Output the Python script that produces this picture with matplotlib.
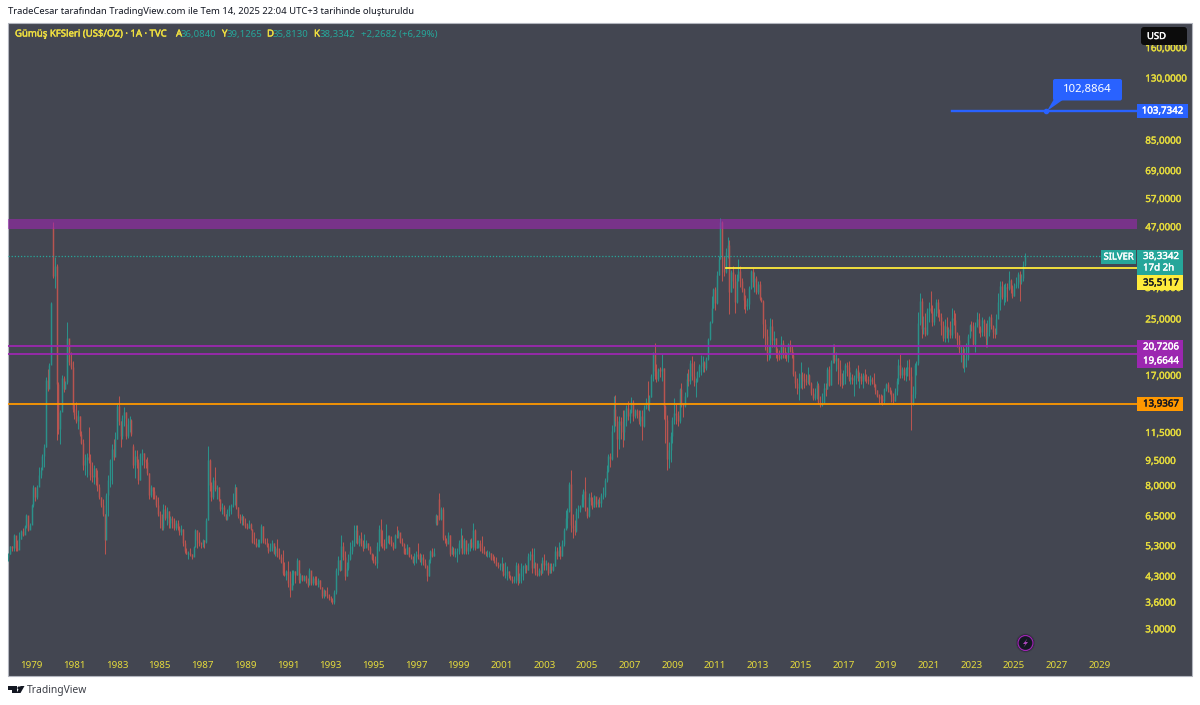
import matplotlib
matplotlib.use("Agg")
import matplotlib.pyplot as plt
import matplotlib.patheffects as pe
from matplotlib.patches import Rectangle, FancyBboxPatch, Polygon, Circle

plt.rcParams["font.family"] = ["Noto Sans", "DejaVu Sans"]

# monthly bars, Dec 1977 to Jul 2025
highs = [5.05,
    5.3,5.3,5.75,5.55,5.5,5.8,5.9,6.0,6.1,6.6,6.3,6.2,
    7.05,8.0,7.9,8.0,9.1,9.1,9.9,10.6,16.8,17.8,18.5,28.0,
    48.5,38.3,36.5,16.2,13.4,17.0,16.9,16.4,24.5,21.7,20.0,18.8,
    14.0,14.2,13.4,12.9,11.6,11.0,9.9,10.0,11.9,9.9,9.4,9.2,
    9.0,8.9,8.1,7.4,7.3,6.6,7.6,8.6,9.6,10.6,11.0,11.5,
    14.0,14.8,12.4,13.0,13.7,13.2,12.7,12.9,12.6,10.6,10.2,10.2,
    9.6,10.0,10.3,10.0,9.6,9.7,8.7,8.0,7.9,7.9,7.5,7.4,
    6.7,6.6,7.05,7.0,6.9,6.7,6.5,6.5,6.4,6.3,6.3,6.05,
    6.1,5.95,5.5,5.2,5.1,5.2,5.0,5.3,5.95,5.9,5.8,5.45,
    5.55,5.5,6.4,10.5,9.6,8.2,8.5,9.1,8.0,7.9,7.3,7.1,
    7.0,6.6,6.8,7.0,7.05,7.6,8.1,7.9,6.9,6.6,6.6,6.5,
    6.4,6.2,6.3,6.2,5.95,5.8,5.6,5.55,5.55,6.15,6.05,5.6,
    5.6,5.4,5.4,5.5,5.4,5.3,5.55,5.2,5.0,5.15,4.75,4.5,
    4.78,4.47,4.5,4.5,4.45,4.87,4.8,4.4,4.35,4.35,4.35,4.25,
    4.55,4.4,4.3,4.3,4.3,4.25,4.2,4.0,3.95,3.85,4.0,3.8,
    3.75,3.7,3.9,4.55,4.95,4.8,5.7,5.45,5.1,4.75,5.0,5.45,
    5.5,6.1,6.1,6.1,5.7,5.8,5.5,5.75,5.5,5.4,5.3,5.0,
    5.0,4.95,5.45,6.1,6.35,5.9,5.55,6.15,5.7,5.7,5.65,5.45,
    5.75,6.05,5.9,5.75,5.6,5.4,5.2,5.35,5.25,5.0,4.95,5.05,
    5.1,5.4,5.05,5.0,5.0,4.85,4.65,4.85,5.15,5.2,5.2,6.6,
    6.3,7.6,6.9,6.9,5.7,5.6,5.8,5.7,5.3,5.25,5.2,5.2,
    5.5,6.0,5.7,5.6,5.5,5.4,5.55,5.6,6.2,5.95,5.5,5.5,
    5.5,5.65,5.3,5.1,5.15,5.1,5.05,5.0,4.95,4.9,4.75,4.7,
    4.9,4.6,4.75,4.6,4.45,4.35,4.3,4.3,4.75,4.7,4.4,4.7,
    4.65,4.7,4.65,5.05,5.1,5.2,5.2,4.75,4.7,4.55,4.7,4.9,
    5.0,4.8,4.75,4.7,4.7,4.7,5.3,5.25,5.45,5.3,5.5,6.0,
    6.75,6.85,8.2,8.9,6.6,6.3,6.85,7.0,7.0,7.55,7.8,8.5,
    6.9,7.6,7.65,7.4,7.5,7.4,7.3,7.4,7.6,7.9,8.4,9.2,
    9.9,10.0,12.1,14.8,14.9,12.9,12.9,12.8,13.4,13.4,13.9,14.3,
    13.5,14.7,14.4,13.5,13.5,13.4,13.4,13.4,13.9,14.6,16.4,14.9,
    17.1,20.0,21.2,18.4,17.9,18.0,19.7,17.9,13.9,13.0,10.8,11.5,
    12.8,14.6,14.0,13.3,15.6,16.1,14.1,15.2,17.3,17.7,18.9,19.4,
    18.7,16.7,17.5,18.4,19.6,19.4,18.7,19.3,22.0,24.6,29.2,31.0,
    31.2,34.6,38.5,50.0,48.8,38.5,40.5,43.8,43.0,35.0,36.0,34.0,
    34.0,37.6,36.0,33.0,31.0,29.4,28.8,31.3,35.0,35.5,34.5,33.5,
    32.5,32.5,29.0,28.5,25.0,23.4,20.8,25.2,25.0,23.0,22.0,20.5,
    20.2,22.3,21.6,20.6,19.9,21.2,21.6,20.9,19.9,17.5,16.7,17.3,
    18.6,17.4,17.3,17.2,18.0,17.2,16.2,15.6,15.6,16.4,16.1,14.8,
    15.1,16.1,16.1,18.0,18.1,18.9,21.0,21.0,20.0,19.1,18.9,17.3,
    17.6,18.5,18.6,18.7,17.4,17.1,17.0,17.9,18.2,17.4,17.3,17.3,
    17.7,17.1,16.9,17.0,16.8,17.3,16.0,15.4,15.0,15.0,14.9,15.6,
    16.1,16.2,15.7,15.4,15.1,15.6,16.7,19.0,19.7,18.0,18.0,18.0,
    18.9,19.0,18.0,15.8,18.5,18.8,26.2,29.8,28.9,25.5,26.0,27.0,
    28.0,30.3,27.5,27.0,28.6,28.7,26.7,26.0,24.7,25.0,25.4,23.6,
    24.7,26.9,26.5,26.0,22.9,22.4,20.8,20.8,20.5,21.2,22.5,24.2,
    24.6,24.4,24.4,26.2,26.1,23.8,25.3,25.0,23.9,24.8,25.5,25.9,
    24.0,23.5,25.8,29.9,32.5,32.5,31.7,32.0,31.9,34.8,32.8,31.5,
    31.9,33.2,34.5,34.6,34.0,37.2,39.1265]
lows = [4.78,
    5.0,5.1,5.1,5.1,5.1,5.5,5.55,5.65,5.8,6.0,5.85,5.95,
    6.3,6.9,7.2,7.3,8.1,8.4,9.0,9.1,10.4,15.3,16.0,18.6,
    33.0,31.0,10.9,11.4,10.6,13.5,15.2,15.5,16.0,18.3,17.7,13.2,
    12.6,12.3,11.8,11.2,10.6,8.9,8.6,8.5,9.3,8.3,8.2,8.1,
    8.0,7.7,7.3,6.9,6.5,5.0,5.9,6.5,7.9,8.1,9.5,10.4,
    11.0,12.1,10.4,11.0,12.0,11.0,11.1,11.5,11.2,9.0,8.4,9.0,
    8.1,8.3,9.2,9.0,9.0,8.6,7.3,7.4,7.3,7.3,6.9,6.5,
    6.0,5.9,5.9,6.3,6.1,6.0,6.0,6.0,5.9,5.9,5.9,5.7,
    5.7,5.3,5.05,5.0,4.85,4.95,4.85,4.95,5.25,5.2,5.3,5.2,
    5.25,5.2,5.4,6.3,7.7,7.2,7.3,7.7,7.3,7.2,6.7,6.6,
    6.5,6.3,6.3,6.5,6.6,6.9,7.0,6.8,6.4,6.2,6.1,6.1,
    6.0,5.95,6.0,5.9,5.4,5.35,5.25,5.25,5.25,5.4,5.4,5.35,
    5.25,5.05,5.1,5.1,5.0,4.95,4.9,4.85,4.7,4.33,4.3,4.2,
    4.0,3.72,3.95,4.05,4.1,4.35,4.1,4.1,4.15,4.15,4.1,4.0,
    4.15,4.05,4.05,4.05,4.05,4.0,3.95,3.7,3.7,3.75,3.7,3.65,
    3.6,3.55,3.55,3.8,4.35,4.45,4.5,4.8,4.2,4.3,4.5,4.8,
    5.0,5.3,5.4,5.35,5.3,5.3,5.1,5.2,5.2,5.15,5.0,4.8,
    4.7,4.65,4.55,5.1,5.3,5.2,5.15,5.2,5.4,5.35,5.3,5.15,
    5.2,5.6,5.6,5.4,5.3,5.0,5.0,5.0,4.9,4.85,4.7,4.65,
    4.7,4.85,4.75,4.65,4.65,4.55,4.15,4.3,4.7,4.9,4.95,6.1,
    6.1,6.3,6.3,5.5,5.4,5.3,5.4,4.95,5.0,4.95,4.9,4.75,
    5.0,5.2,5.0,5.0,5.0,5.0,5.1,5.2,5.15,5.15,5.2,5.2,
    5.1,5.05,5.0,4.95,4.9,4.9,4.8,4.8,4.7,4.6,4.55,4.5,
    4.45,4.3,4.25,4.2,4.25,4.2,4.1,4.1,4.1,4.05,4.1,4.1,
    4.2,4.4,4.4,4.5,4.8,4.4,4.65,4.35,4.3,4.3,4.35,4.4,
    4.5,4.5,4.35,4.4,4.4,4.45,4.6,4.85,4.95,4.85,4.95,5.3,
    5.95,6.0,6.65,5.8,5.6,5.7,5.8,6.4,6.65,6.9,6.9,6.7,
    6.4,6.45,7.0,6.8,6.9,6.9,6.9,6.9,6.9,7.3,7.4,8.2,
    8.8,9.1,9.5,11.5,12.0,9.7,10.3,11.0,10.4,10.9,12.0,12.5,
    12.3,13.1,12.4,12.7,12.7,12.2,12.0,10.9,11.9,13.5,13.4,13.3,
    14.7,16.4,16.6,16.2,16.4,16.8,16.4,12.6,10.7,8.9,9.0,9.4,
    10.7,12.2,12.2,12.0,12.3,13.7,12.8,13.7,14.7,15.8,16.0,16.5,
    15.8,14.7,16.2,16.8,17.0,17.4,17.4,17.6,18.9,21.6,24.3,26.9,
    26.5,27.6,33.7,37.7,32.5,33.5,34.3,38.0,25.8,30.0,31.0,26.1,
    27.9,32.5,31.2,30.0,26.8,26.0,26.5,26.7,30.7,31.2,30.0,29.6,
    29.6,28.5,28.0,22.0,20.2,18.7,18.9,19.2,20.7,20.6,19.2,18.8,
    18.9,19.0,19.1,19.1,18.8,18.6,19.9,19.2,16.9,15.6,15.0,14.4,
    15.6,15.5,15.6,15.9,16.0,15.9,14.9,14.4,14.4,14.5,14.0,13.7,
    13.8,14.8,14.8,15.5,15.8,15.9,18.5,18.5,17.5,16.0,15.8,15.6,
    15.9,16.0,16.9,16.4,16.0,16.0,14.8,16.0,16.4,15.6,16.0,15.6,
    16.3,16.1,16.0,15.9,16.0,15.7,15.0,14.7,14.0,14.0,13.9,14.0,
    15.3,15.2,15.0,14.2,14.0,14.3,14.9,16.0,16.7,16.7,16.5,16.4,
    16.9,16.5,11.7,13.9,14.6,17.0,18.3,24.0,22.0,22.5,22.3,22.4,
    24.5,26.0,23.8,24.0,25.5,25.4,24.6,22.4,21.5,21.4,22.0,21.4,
    21.9,22.0,24.0,22.0,20.6,19.8,18.6,17.9,17.4,18.0,18.9,22.0,
    23.0,20.9,19.9,23.6,22.7,22.1,22.3,22.3,20.7,20.7,22.3,23.3,
    21.9,21.9,22.6,26.0,26.5,28.6,27.5,28.0,28.2,30.4,29.9,28.8,
    29.2,31.0,31.0,28.3,31.8,32.4,35.813]
closes = [5.0,
    5.3,5.2,5.7,5.2,5.15,5.55,5.85,5.7,6.05,6.55,5.9,6.1,
    7.0,7.9,7.4,7.9,8.6,8.9,9.8,10.4,16.5,15.5,18.2,27.8,
    33.5,36.0,16.0,11.8,13.2,16.7,15.5,16.2,22.0,18.6,18.0,13.5,
    13.0,12.4,12.9,11.4,10.7,9.2,9.5,9.7,9.5,8.6,8.5,9.0,
    8.5,7.9,7.4,7.0,6.6,5.5,7.5,8.3,9.5,10.3,9.7,11.0,
    13.8,12.4,11.2,12.7,13.2,11.2,12.2,12.5,11.4,9.2,9.8,9.4,
    8.3,9.9,10.0,9.5,9.4,8.7,7.5,7.9,7.7,7.4,7.0,6.6,
    6.5,6.0,6.8,6.4,6.7,6.2,6.4,6.3,6.0,6.2,6.0,5.8,
    5.95,5.4,5.1,5.0,5.05,5.0,4.9,5.25,5.9,5.5,5.4,5.35,
    5.5,5.45,6.3,9.5,8.0,7.4,8.3,7.8,7.9,7.3,6.8,6.9,
    6.6,6.35,6.7,6.9,7.0,7.05,7.9,6.9,6.5,6.3,6.5,6.2,
    6.05,6.0,6.15,5.95,5.45,5.4,5.3,5.4,5.5,6.05,5.45,5.4,
    5.3,5.1,5.2,5.4,5.05,5.2,4.95,4.9,4.75,4.4,4.35,4.45,
    4.1,3.9,4.4,4.45,4.35,4.8,4.2,4.35,4.2,4.3,4.15,4.05,
    4.5,4.1,4.25,4.1,4.08,4.2,4.0,3.75,3.9,3.8,3.75,3.7,
    3.65,3.6,3.85,4.5,4.8,4.5,5.3,4.9,4.3,4.55,4.85,5.1,
    5.3,5.5,5.9,5.4,5.6,5.35,5.2,5.25,5.4,5.2,5.05,4.85,
    4.75,4.7,5.3,5.95,5.4,5.25,5.2,5.6,5.65,5.5,5.35,5.2,
    5.7,5.65,5.8,5.45,5.35,5.05,5.02,5.25,4.95,4.9,4.75,4.95,
    5.0,4.9,4.8,4.9,4.7,4.6,4.3,4.8,5.1,4.95,5.05,6.55,
    6.15,6.35,6.8,5.6,5.5,5.35,5.7,5.0,5.2,5.0,5.1,5.1,
    5.4,5.55,5.05,5.5,5.1,5.25,5.45,5.25,5.9,5.2,5.25,5.4,
    5.2,5.1,5.05,5.0,5.02,5.03,4.85,4.82,4.75,4.65,4.6,4.65,
    4.7,4.35,4.4,4.45,4.3,4.22,4.15,4.2,4.65,4.15,4.3,4.55,
    4.6,4.65,4.5,4.95,5.0,4.55,4.7,4.4,4.35,4.5,4.4,4.8,
    4.65,4.7,4.4,4.6,4.5,4.6,5.1,4.95,5.15,4.95,5.35,5.9,
    6.4,6.7,8.1,6.1,6.0,5.85,6.7,6.8,6.95,7.3,7.7,6.85,
    6.5,7.4,7.2,6.9,7.45,7.05,7.2,7.1,7.5,7.5,8.3,8.85,
    9.8,9.6,11.6,13.5,12.4,11.0,12.4,12.1,11.5,12.4,13.6,12.9,
    13.2,14.2,12.9,13.4,13.0,12.4,12.9,12.0,13.6,14.2,14.0,14.7,
    16.9,19.8,17.5,16.6,17.7,17.5,17.9,13.8,12.5,9.6,10.2,11.2,
    12.5,13.1,13.0,12.4,15.5,14.0,13.8,14.8,16.6,16.3,18.5,16.9,
    16.2,16.4,17.4,18.1,18.2,18.6,17.9,19.0,21.8,24.5,27.0,30.7,
    27.8,33.8,37.8,48.5,38.5,34.5,39.5,41.5,30.0,34.5,32.5,28.0,
    33.0,34.8,32.5,30.6,28.5,27.3,27.6,31.0,34.6,32.2,33.0,30.0,
    31.8,28.9,28.3,24.2,22.2,19.6,19.9,23.8,21.7,21.9,19.9,19.4,
    19.1,21.2,19.7,19.2,19.1,21.0,20.3,19.5,17.1,16.1,15.6,15.7,
    17.2,16.6,16.4,16.2,17.0,16.1,15.1,14.6,15.0,15.9,14.2,13.9,
    14.1,15.6,15.5,17.8,15.9,18.6,20.0,18.7,19.1,17.7,16.5,16.0,
    17.3,18.2,18.0,16.6,16.8,16.5,16.7,17.6,16.7,16.9,16.4,17.0,
    16.6,16.4,16.3,16.6,16.2,16.0,15.4,14.8,14.6,14.5,14.3,15.5,
    16.0,15.6,15.2,14.8,14.3,15.3,16.4,18.3,17.0,17.8,17.0,17.9,
    18.0,16.9,14.0,15.0,18.2,18.5,24.3,28.2,23.4,23.7,22.6,26.4,
    27.0,26.4,24.4,26.0,28.0,26.0,25.3,24.0,22.0,23.9,22.9,23.3,
    22.4,25.2,24.8,22.7,21.7,20.3,20.3,18.0,18.9,19.1,22.2,24.0,
    23.8,21.0,24.0,25.0,23.5,22.8,24.8,24.3,22.0,22.8,25.3,23.8,
    22.9,22.6,25.0,28.0,31.4,29.0,29.0,31.2,30.9,32.6,30.6,29.2,
    31.3,31.7,34.0,32.2,33.0,36.084,38.3342]
first_open = 4.9
open_fixes = {25: 47.0, 70: 10.5, 240: 6.2, 242: 7.3}

year_labels = list(range(1979, 2030, 2))
# the levels behind the tags (38, 21, 14) are left out, the tags cover them anyway
price_ticks = [160, 130, 85, 69, 57, 47, 31, 25, 17, 11.5, 9.5, 8, 6.5, 5.3, 4.3, 3.6, 3]

last_price = 38.3342
yellow_level = 35.5117
purple_levels = [20.7206, 19.6644]
orange_level = 13.9367
blue_level = 103.7342
zone_low, zone_high = 46.3, 49.5

UP = "#2b918a"
DOWN = "#b85450"
PANEL = "#434651"
TICK = "#e6dc3c"


def tr(v):
    return f"{v:.4f}".replace(".", ",")


def box(ax, x0, y0, x1, y1, color, **kw):
    ax.add_patch(Rectangle((x0, y0), x1 - x0, y1 - y0, facecolor=color, edgecolor="none", **kw))


def thick(t, color, w=0.3):
    # screenshot text is heavier than the regular face
    t.set_path_effects([pe.withStroke(linewidth=w, foreground=color)])


opens = [first_open] + closes[:-1]
for k, v in open_fixes.items():
    opens[k] = v
xs = list(range(len(closes)))

fig = plt.figure(figsize=(12, 7.05), dpi=100, facecolor="white")

# panel behind everything, coordinates in pixels
bg = fig.add_axes([0, 0, 1, 1], zorder=0)
bg.set_xlim(0, 1200)
bg.set_ylim(705, 0)
bg.axis("off")
bg.add_patch(Rectangle((8, 22.5), 1184, 653, facecolor=PANEL, edgecolor="#b2b5be", lw=0.8))

# price pane: 8..1137 px wide, 24..652 px high
ax = fig.add_axes([8 / 1200, 1 - 652 / 705, 1129 / 1200, 628 / 705], zorder=1)
ax.patch.set_alpha(0)
ax.set_yscale("log")
ax.set_xlim(-0.28, 634)
ax.set_ylim(2.56, 188.1)
for s in ax.spines.values():
    s.set_visible(False)

colors = [UP if c >= o else DOWN for o, c in zip(opens, closes)]
ax.vlines(xs, lows, highs, colors=colors, lw=0.75, capstyle="butt", zorder=2)
ax.vlines(xs, opens, closes, colors=colors, lw=1.05, capstyle="butt", zorder=2)

ax.axhspan(zone_low, zone_high, color="#9c27b0", alpha=0.6, lw=0, zorder=3)
ax.plot([-0.28, 613], [last_price, last_price], color="#26a69a", lw=0.9, ls=(0, (1, 1.5)), zorder=3)
ax.plot([403, 634], [yellow_level, yellow_level], color="#ffeb3b", lw=1.3, zorder=4)
for p in purple_levels:
    ax.axhline(p, color="#9c27b0", lw=1.3, zorder=4)
ax.axhline(orange_level, color="#ff9800", lw=1.3, zorder=4)
ax.plot([530, 634], [blue_level, blue_level], color="#2962ff", lw=1.7, zorder=4)
ax.plot([583], [blue_level], "o", color="#2962ff", ms=3, zorder=5)

ax.set_xticks([1 + 12 * (y - 1978) for y in year_labels])
ax.set_xticklabels([str(y) for y in year_labels], color=TICK, fontsize=7, fontweight="bold")
ax.yaxis.tick_right()
ax.set_yticks(price_ticks)
ax.set_yticklabels([tr(p) for p in price_ticks], color=TICK, fontsize=7)
for t in ax.get_yticklabels():
    thick(t, TICK)
ax.minorticks_off()
ax.tick_params(axis="x", length=0, pad=6.5)
ax.tick_params(axis="y", length=0, pad=6)

# labels and tags on top, also in pixels
ov = fig.add_axes([0, 0, 1, 1], zorder=2)
ov.set_xlim(0, 1200)
ov.set_ylim(705, 0)
ov.axis("off")
ov.patch.set_alpha(0)


def label(x, y, s, color="white", size=7, weight="normal", ha="left", heavy=True):
    t = ov.text(x, y, s, color=color, fontsize=size, fontweight=weight, ha=ha, va="center")
    if heavy:
        thick(t, color)
    return t


label(8, 12, "TradeCesar tarafından TradingView.com ile Tem 14, 2025 22:04 UTC+3 tarihinde oluşturuldu", "#131722", 6.8, heavy=False)

# legend row
label(15, 34, "Gümüş KFSleri (US$/OZ) · 1A · TVC", "#f0e040", 6.9)
for x, s in [(176, "A"), (222, "Y"), (267, "D"), (314, "K")]:
    label(x, 34, s, "#f0e040", 6.9)
for x, s in [(181, "36,0840"), (227, "39,1265"), (273, "35,8130"), (320, "38,3342"), (361, "+2,2682 (+6,29%)")]:
    label(x, 34, s, "#26a69a", 6.9, heavy=False)

# USD button
ov.add_patch(FancyBboxPatch((1141, 27), 46, 18, boxstyle="round,pad=0,rounding_size=3", fc="#0c0c0c", ec="none"))
label(1147, 36.5, "USD", "white", 6.8)

# price tags
box(ov, 1137, 104, 1188, 118, "#2962ff")
label(1162.5, 111, tr(blue_level), "white", 7, ha="center")
box(ov, 1101, 250, 1136, 264, "#26a69a")
label(1118.5, 257, "SILVER", "white", 6.8, ha="center")
box(ov, 1137, 250, 1183, 275, "#26a69a")
label(1143, 256.5, tr(last_price), "white", 7)
label(1143, 268, "17d 2h", "white", 7)
box(ov, 1137, 275, 1183, 290, "#ffeb3b")
label(1143, 283, tr(yellow_level), "#131722", 7)
box(ov, 1137, 340, 1183, 368, "#9c27b0")
label(1143, 347, tr(purple_levels[0]), "white", 7)
label(1143, 361, tr(purple_levels[1]), "white", 7)
box(ov, 1137, 397, 1183, 411, "#ff9800")
label(1143, 404, tr(orange_level), "#131722", 7)

# callout on the blue line
ov.add_patch(Polygon([(1054, 99), (1064, 99), (1047, 111)], fc="#2962ff", ec="none"))
ov.add_patch(FancyBboxPatch((1053, 79), 69, 21.5, boxstyle="round,pad=0,rounding_size=2", fc="#2962ff", ec="none"))
label(1087.5, 89.5, "102,8864", "white", 8.2, "bold", "center", heavy=False)

# lightning marker
ov.add_patch(Circle((1025.5, 643), 9, fc="#131722", ec="#3a3d47", lw=0.8))
ov.add_patch(Circle((1025.5, 643), 7.5, fc="#131722", ec="#9c27b0", lw=0.9))
ov.add_patch(Polygon([(1027.5, 638.5), (1023, 644), (1025.5, 644), (1023.5, 647.5), (1028, 642), (1025.5, 642)], fc="#ab47bc", ec="none"))

# TradingView logo
ov.add_patch(Polygon([(8, 686), (17, 686), (17, 693), (12, 693), (12, 690), (8, 690)], fc="#131722", ec="none"))
ov.add_patch(Circle((19, 688), 1.6, fc="#131722", ec="none"))
ov.add_patch(Polygon([(20.5, 686), (24.5, 686), (20.5, 693), (16.5, 693)], fc="#131722", ec="none"))
label(27, 690.5, "TradingView", "#3c3f47", 7.4, heavy=False)

fig.savefig("out.png", dpi=100)
